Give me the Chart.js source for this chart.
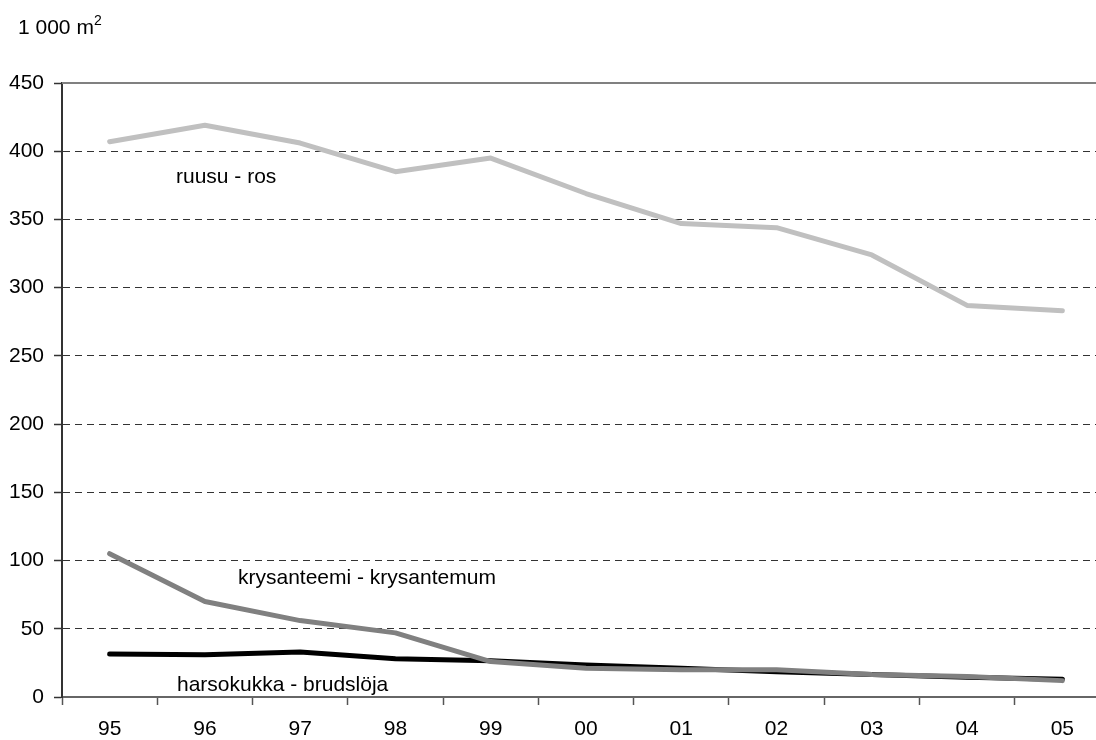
<!DOCTYPE html>
<html>
<head>
<meta charset="utf-8">
<script src="https://cdn.jsdelivr.net/npm/chart.js@4"></script>
<style>
  html, body { margin: 0; padding: 0; background: #fff; overflow: hidden; }
  body { width: 1096px; height: 740px; position: relative; font-family: "Liberation Sans", Arial, sans-serif; color: #000; }
  #wrap { position: absolute; left: 0; top: 0; width: 1110px; height: 740px; }
  .note { position: absolute; font-size: 21px; line-height: 21px; white-space: nowrap; }
  .note sup { font-size: 14px; vertical-align: 9px; line-height: 0; }
</style>
</head>
<body>
<div id="wrap"><canvas id="chart"></canvas></div>
<div class="note" style="left:18px; top:16px;">1 000 m<sup>2</sup></div>
<div class="note" style="left:176px; top:165px;">ruusu - ros</div>
<div class="note" style="left:238px; top:566px;">krysanteemi - krysantemum</div>
<div class="note" style="left:177px; top:673px;">harsokukka - brudslöja</div>
<script>
// Vuodet (x-akseli)
const years = ["95", "96", "97", "98", "99", "00", "01", "02", "03", "04", "05"];

// Pinta-ala, 1 000 m2
const ruusu = [407, 419, 406, 385, 395, 369, 347, 344, 324, 287, 283];
const krysanteemi = [105, 70, 56, 47, 26, 21, 20, 20, 16.5, 15, 12];
const harsokukka = [31.5, 31, 33, 28, 26.5, 23.5, 21, 18.5, 16.5, 14.5, 13];

const yMin = 0;
const yMax = 450;
const yStep = 50;

Chart.defaults.font.family = "'Liberation Sans', Arial, sans-serif";
Chart.defaults.font.size = 21;
Chart.defaults.color = "#000";

// Yläreunan yhtenäinen viiva (450)
const topLine = {
  id: "topLine",
  beforeDatasetsDraw(chart) {
    const { ctx, chartArea } = chart;
    ctx.save();
    ctx.strokeStyle = "#808080";
    ctx.lineWidth = 2;
    ctx.beginPath();
    ctx.moveTo(chartArea.left, chartArea.top);
    ctx.lineTo(chartArea.right, chartArea.top);
    ctx.stroke();
    ctx.restore();
  },
};

const line = (label, data, color) => ({
  label: label,
  data: data,
  borderColor: color,
  backgroundColor: color,
  borderWidth: 5,
  pointRadius: 0,
  tension: 0,
  borderCapStyle: "round",
  borderJoinStyle: "round",
});

new Chart(document.getElementById("chart").getContext("2d"), {
  type: "line",
  data: {
    labels: years,
    datasets: [
      line("ruusu - ros", ruusu, "#c0c0c0"),
      line("krysanteemi - krysantemum", krysanteemi, "#808080"),
      line("harsokukka - brudslöja", harsokukka, "#000000"),
    ],
  },
  options: {
    responsive: true,
    maintainAspectRatio: false,
    animation: false,
    layout: { padding: { top: 83, left: 0, right: 0, bottom: 0 } },
    plugins: {
      legend: { display: false },
      tooltip: { enabled: false },
    },
    scales: {
      x: {
        offset: true,
        grid: {
          offset: true,
          drawOnChartArea: false,
          drawTicks: true,
          tickLength: 8,
          tickColor: "#555",
          tickWidth: 1.5,
        },
        border: { color: "#666", width: 2 },
        ticks: { padding: 12, maxRotation: 0, autoSkip: false },
        afterFit: scale => { scale.height = 43; },
      },
      y: {
        min: yMin,
        max: yMax,
        ticks: { stepSize: yStep, padding: 10 },
        grid: {
          color: c => (c.tick.value === yMin || c.tick.value === yMax ? "rgba(0,0,0,0)" : "#333"),
          lineWidth: 1,
          tickLength: 8,
          tickColor: "#333",
          tickWidth: 1.5,
        },
        border: { color: "#333", width: 2, dash: [7, 5] },
        afterFit: scale => { scale.width = 62; },
      },
    },
  },
  plugins: [topLine],
});
</script>
</body>
</html>
